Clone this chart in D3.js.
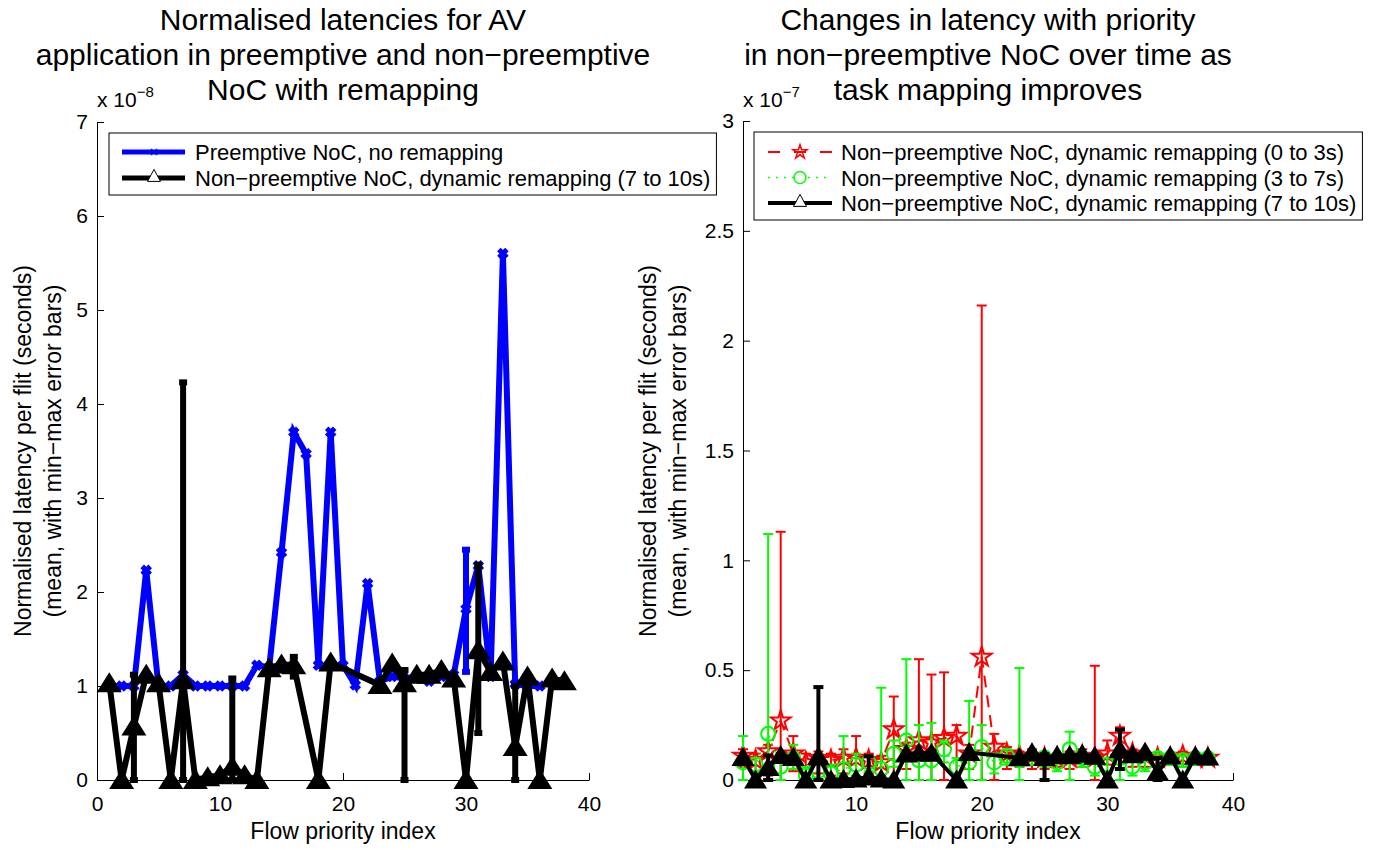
<!DOCTYPE html>
<html>
<head>
<meta charset="utf-8">
<script src="https://cdn.jsdelivr.net/npm/d3@7"></script>
<style>
body { margin: 0; background: #fff; }
text { font-family: "Liberation Sans", Arial, Helvetica, sans-serif; fill: #000; }
</style>
</head>
<body>
<div id="wrapper"></div>
<script>
// ---- left panel (values in units of 1e-8 s) ----
const blueX    = [2,3,4,5,6,7,8,9,10,11,12,13,14,15,16,17,18,19,20,21,22,23,24,25,26,27,28,29,30,31,32,33,34,35,36];
const blueMean = [1.0,1.0,2.23,1.0,1.0,1.12,1.0,1.0,1.0,1.0,1.0,1.22,1.2,2.42,3.7,3.47,1.22,3.7,1.22,1.01,2.09,1.05,1.1,1.08,1.1,1.05,1.1,1.12,1.82,2.28,1.1,5.6,1.02,1.0,1.0];
const blueErrX  = [30];
const blueErrLo = [1.15];
const blueErrHi = [2.45];

const blackX    = [1,2,3,4,5,6,7,8,9,10,11,12,13,14,15,16,18,19,23,24,25,26,27,28,29,30,31,32,33,34,35,36,37,38];
const blackMean = [1.03,0,0.57,1.12,1.03,0,1.06,0,0.03,0.05,0.14,0.05,0,1.19,1.23,1.22,0,1.25,1.01,1.24,1.03,1.12,1.12,1.17,1.08,0,1.38,1.15,1.26,0.35,1.1,0,1.08,1.05];
const blackErrX  = [3,7,11,16,25,31,34];
const blackErrLo = [0,0,0,1.1,0,0.5,0];
const blackErrHi = [1.12,4.23,1.08,1.31,1.17,2.29,1.0];

// ---- right panel (values in units of 1e-7 s) ----
const flowX   = [1,2,3,4,5,6,7,8,9,10,11,12,13,14,15,16,17,18,19,20,21,22,23,24,25,26,27,28,29,30,31,32,33,34,35,36,37,38];
const redMean = [0.11,0.09,0.13,0.27,0.12,0.08,0.10,0.09,0.10,0.10,0.09,0.08,0.23,0.14,0.18,0.17,0.19,0.20,0.12,0.56,0.15,0.12,0.11,0.11,0.10,0.10,0.10,0.11,0.10,0.12,0.20,0.12,0.11,0.10,0.10,0.11,0.10,0.10];
const redMin  = [0.06,0.03,0.02,0,0.04,0.02,0.03,0.02,0.03,0,0.03,0.02,0,0.05,0,0,0,0,0.05,0,0,0.05,0.06,0.05,0.05,0.06,0.05,0.06,0,0.07,0.10,0.06,0.06,0.06,0.07,0.06,0.07,0.07];
const redMax  = [0.14,0.12,0.16,1.13,0.20,0.12,0.13,0.12,0.14,0.20,0.12,0.11,0.38,0.17,0.55,0.48,0.49,0.25,0.16,2.16,0.21,0.15,0.13,0.14,0.12,0.12,0.13,0.14,0.52,0.18,0.24,0.14,0.13,0.12,0.12,0.13,0.12,0.12];
const greenMean = [0.08,0.07,0.21,0.06,0.10,0.02,0.04,0.03,0.05,0.07,0.08,0.05,0.12,0.18,0.09,0.09,0.14,0.06,0.08,0.15,0.08,0.11,0.09,0.10,0.10,0.08,0.14,0.10,0.06,0.07,0.10,0.06,0.08,0.10,0.10,0.09,0.10,0.10];
const greenMin  = [0,0.03,0,0,0.05,0,0,0,0,0.02,0.04,0,0.06,0,0,0,0.08,0,0,0,0.03,0.07,0,0.07,0.06,0.04,0,0.06,0.02,0.03,0,0.02,0.04,0.07,0.07,0.06,0.07,0.07];
const greenMax  = [0.20,0.10,1.12,0.12,0.16,0.06,0.08,0.07,0.20,0.12,0.11,0.42,0.18,0.55,0.25,0.26,0.18,0.10,0.36,0.25,0.12,0.14,0.51,0.13,0.13,0.11,0.22,0.13,0.10,0.10,0.13,0.09,0.11,0.12,0.12,0.11,0.12,0.12];

const leftXTicks  = [0,10,20,30,40];
const leftYTicks  = [0,1,2,3,4,5,6,7];
const rightXTicks = [10,20,30,40];
const rightYTicks = [0,0.5,1,1.5,2,2.5,3];

const leftTitle  = ["Normalised latencies for AV", "application in preemptive and non\u2212preemptive", "NoC with remapping"];
const rightTitle = ["Changes in latency with priority", "in non\u2212preemptive NoC over time as", "task mapping improves"];
const yLabel = ["Normalised latency per flit (seconds)", "(mean, with min\u2212max error bars)"];
const xLabel = "Flow priority index";
const leftLegend  = ["Preemptive NoC, no remapping", "Non\u2212preemptive NoC, dynamic remapping (7 to 10s)"];
const rightLegend = ["Non\u2212preemptive NoC, dynamic remapping (0 to 3s)", "Non\u2212preemptive NoC, dynamic remapping (3 to 7s)", "Non\u2212preemptive NoC, dynamic remapping (7 to 10s)"];

function build() {
    var dimension = { width: 1374, height: 850 };

    const svg = d3.select("#wrapper")
        .append("svg")
        .attr("width", dimension.width)
        .attr("height", dimension.height);

    const zip = (xs, vs) => xs.map((x, i) => ({x: x, v: vs[i]}));

    function triPath(w, h) {
        return `M0,${-h*0.55}L${w/2},${h*0.45}L${-w/2},${h*0.45}Z`;
    }

    function drawAxes(g, x, y, xt, yt, expo, title, cx, lblX) {
        g.append("g")
            .attr("transform", `translate(0,${y.range()[0]})`)
            .call(d3.axisBottom(x).tickValues(xt).tickSizeInner(-7).tickSizeOuter(0).tickPadding(16).tickFormat(d => String(d)))
            .call(a => a.selectAll("text").style("font-size", "21px").style("font-family", "Liberation Sans, Arial, sans-serif"));
        g.append("g")
            .attr("transform", `translate(${x.range()[0]},0)`)
            .call(d3.axisLeft(y).tickValues(yt).tickSizeInner(-7).tickSizeOuter(0).tickPadding(9).tickFormat(d => String(d)))
            .call(a => a.selectAll("text").style("font-size", "21px").style("font-family", "Liberation Sans, Arial, sans-serif"));
        g.selectAll(".domain").attr("stroke", "#000");

        const ex = g.append("text")
            .attr("x", x.range()[0])
            .attr("y", 107)
            .style("font-size", "21px");
        ex.append("tspan").text("x 10");
        ex.append("tspan").attr("dy", -10).style("font-size", "15px").text(expo);

        g.append("g").selectAll("text")
            .data(title)
            .enter()
            .append("text")
            .attr("x", cx)
            .attr("y", (d, i) => 30 + i*35)
            .attr("text-anchor", "middle")
            .style("font-size", "30px")
            .text(d => d);

        g.append("text")
            .attr("x", cx)
            .attr("y", 839)
            .attr("text-anchor", "middle")
            .style("font-size", "23px")
            .text(xLabel);

        g.append("g").selectAll("text")
            .data(yLabel)
            .enter()
            .append("text")
            .attr("transform", (d, i) => `translate(${lblX + i*30},451) rotate(-90)`)
            .attr("text-anchor", "middle")
            .style("font-size", "23px")
            .text(d => d);
    }

    function errorBars(g, xs, lo, hi, x, y, color, w, cap) {
        const d = xs.map((xv, i) => ({x: xv, lo: lo[i], hi: hi[i]})).filter(e => e.hi > e.lo);
        const eb = g.append("g").attr("stroke", color).attr("stroke-width", w).attr("fill", "none");
        eb.selectAll(".v").data(d).enter().append("line")
            .attr("x1", e => x(e.x)).attr("x2", e => x(e.x))
            .attr("y1", e => y(e.lo)).attr("y2", e => y(e.hi));
        eb.selectAll(".ct").data(d).enter().append("line")
            .attr("x1", e => x(e.x) - cap).attr("x2", e => x(e.x) + cap)
            .attr("y1", e => y(e.hi)).attr("y2", e => y(e.hi));
        eb.selectAll(".cb").data(d).enter().append("line")
            .attr("x1", e => x(e.x) - cap).attr("x2", e => x(e.x) + cap)
            .attr("y1", e => y(e.lo)).attr("y2", e => y(e.lo));
    }

    // ================= left panel =================
    const xL = d3.scaleLinear().domain([0, 40]).range([97, 589]);
    const yL = d3.scaleLinear().domain([0, 7]).range([780, 122]);
    const left = svg.append("g");
    drawAxes(left, xL, yL, leftXTicks, leftYTicks, "\u22128", leftTitle, 343, 31);

    const lineL = d3.line().x(d => xL(d.x)).y(d => yL(d.v));

    const blue = zip(blueX, blueMean);
    errorBars(left, blueErrX, blueErrLo, blueErrHi, xL, yL, "#0000ff", 6, 4);
    left.append("path").datum(blue)
        .attr("d", lineL).attr("fill", "none").attr("stroke", "#0000ff")
        .attr("stroke-width", 6).attr("stroke-linejoin", "miter");
    left.append("g").selectAll("path").data(blue).enter().append("path")
        .attr("transform", d => `translate(${xL(d.x)},${yL(d.v)})`)
        .attr("d", "M-4,-4L4,4M-4,4L4,-4")
        .attr("stroke", "#0000ff").attr("stroke-width", 5);

    const black = zip(blackX, blackMean);
    errorBars(left, blackErrX, blackErrLo, blackErrHi, xL, yL, "#000", 6, 4);
    left.append("path").datum(black)
        .attr("d", lineL).attr("fill", "none").attr("stroke", "#000")
        .attr("stroke-width", 6).attr("stroke-linejoin", "miter");
    left.append("g").selectAll("path").data(black).enter().append("path")
        .attr("transform", d => `translate(${xL(d.x)},${yL(d.v)})`)
        .attr("d", triPath(25, 20))
        .attr("fill", "#000");

    // left legend
    const legL = left.append("g");
    const legLBox = legL.append("rect")
        .attr("x", 109).attr("y", 133).attr("height", 62)
        .attr("fill", "#fff").attr("stroke", "#000").attr("stroke-width", 1);
    const legLText = legL.selectAll("text").data(leftLegend).enter().append("text")
        .attr("x", 195).attr("y", (d, i) => 160 + i*26)
        .style("font-size", "22px")
        .text(d => d);
    legL.append("line").attr("x1", 122).attr("x2", 185).attr("y1", 152).attr("y2", 152)
        .attr("stroke", "#0000ff").attr("stroke-width", 5);
    legL.append("path").attr("d", "M151,149L157,155M151,155L157,149").attr("stroke", "#0000ff").attr("stroke-width", 1.5);
    legL.append("line").attr("x1", 122).attr("x2", 185).attr("y1", 178).attr("y2", 178)
        .attr("stroke", "#000").attr("stroke-width", 5);
    legL.append("path").attr("transform", "translate(154,176)").attr("d", triPath(13, 12))
        .attr("fill", "#fff").attr("stroke", "#000").attr("stroke-width", 1);
    const wL = d3.max(legLText.nodes(), n => n.getComputedTextLength());
    legLBox.attr("width", 195 + wL + 6 - 109);

    // ================= right panel =================
    const xR = d3.scaleLinear().domain([1, 40]).range([743, 1233]);
    const yR = d3.scaleLinear().domain([0, 3]).range([780, 121]);
    const right = svg.append("g");
    drawAxes(right, xR, yR, rightXTicks, rightYTicks, "\u22127", rightTitle, 988, 656);

    const lineR = d3.line().x(d => xR(d.x)).y(d => yR(d.v));
    const star = d3.symbol().type(d3.symbolStar).size(120);

    // red, 0 to 3s
    const red = zip(flowX, redMean);
    errorBars(right, flowX, redMin, redMax, xR, yR, "#ff0000", 2, 5);
    right.append("path").datum(red)
        .attr("d", lineR).attr("fill", "none").attr("stroke", "#ff0000")
        .attr("stroke-width", 2).attr("stroke-dasharray", "12,8");
    right.append("g").selectAll("path").data(red).enter().append("path")
        .attr("transform", d => `translate(${xR(d.x)},${yR(d.v)})`)
        .attr("d", star())
        .attr("fill", "none").attr("stroke", "#ff0000").attr("stroke-width", 2);

    // green, 3 to 7s
    const green = zip(flowX, greenMean);
    errorBars(right, flowX, greenMin, greenMax, xR, yR, "#00ff00", 2, 5);
    right.append("path").datum(green)
        .attr("d", lineR).attr("fill", "none").attr("stroke", "#00ff00")
        .attr("stroke-width", 1.5).attr("stroke-dasharray", "2,6");
    right.append("g").selectAll("circle").data(green).enter().append("circle")
        .attr("cx", d => xR(d.x)).attr("cy", d => yR(d.v)).attr("r", 7)
        .attr("fill", "none").attr("stroke", "#00ff00").attr("stroke-width", 2);

    // black, 7 to 10s (same measurements, shown in 1e-7 units)
    const blackR = blackX.map((xv, i) => ({x: xv, v: blackMean[i] / 10}));
    errorBars(right, blackErrX, blackErrLo.map(v => v / 10), blackErrHi.map(v => v / 10), xR, yR, "#000", 4, 5);
    right.append("path").datum(blackR)
        .attr("d", lineR).attr("fill", "none").attr("stroke", "#000")
        .attr("stroke-width", 4).attr("stroke-linejoin", "miter");
    right.append("g").selectAll("path").data(blackR).enter().append("path")
        .attr("transform", d => `translate(${xR(d.x)},${yR(d.v)})`)
        .attr("d", triPath(23, 19))
        .attr("fill", "#000");

    // right legend
    const legR = right.append("g");
    const legRBox = legR.append("rect")
        .attr("x", 754).attr("y", 132).attr("height", 88)
        .attr("fill", "#fff").attr("stroke", "#000").attr("stroke-width", 1);
    const legRText = legR.selectAll("text").data(rightLegend).enter().append("text")
        .attr("x", 841).attr("y", (d, i) => 160 + i*25.5)
        .style("font-size", "22px")
        .text(d => d);
    legR.append("line").attr("x1", 768).attr("x2", 832).attr("y1", 152).attr("y2", 152)
        .attr("stroke", "#ff0000").attr("stroke-width", 2).attr("stroke-dasharray", "12,14");
    legR.append("path").attr("transform", "translate(800,152)")
        .attr("d", d3.symbol().type(d3.symbolStar).size(60)())
        .attr("fill", "none").attr("stroke", "#ff0000").attr("stroke-width", 1.5);
    legR.append("line").attr("x1", 768).attr("x2", 832).attr("y1", 177.5).attr("y2", 177.5)
        .attr("stroke", "#00ff00").attr("stroke-width", 1.5).attr("stroke-dasharray", "2,6");
    legR.append("circle").attr("cx", 800).attr("cy", 177.5).attr("r", 6)
        .attr("fill", "#fff").attr("stroke", "#00ff00").attr("stroke-width", 1.5);
    legR.append("line").attr("x1", 768).attr("x2", 832).attr("y1", 203).attr("y2", 203)
        .attr("stroke", "#000").attr("stroke-width", 4);
    legR.append("path").attr("transform", "translate(800,201)").attr("d", triPath(13, 12))
        .attr("fill", "#fff").attr("stroke", "#000").attr("stroke-width", 1);
    const wR = d3.max(legRText.nodes(), n => n.getComputedTextLength());
    legRBox.attr("width", 841 + wR + 6 - 754);
}

build();
</script>
</body>
</html>
